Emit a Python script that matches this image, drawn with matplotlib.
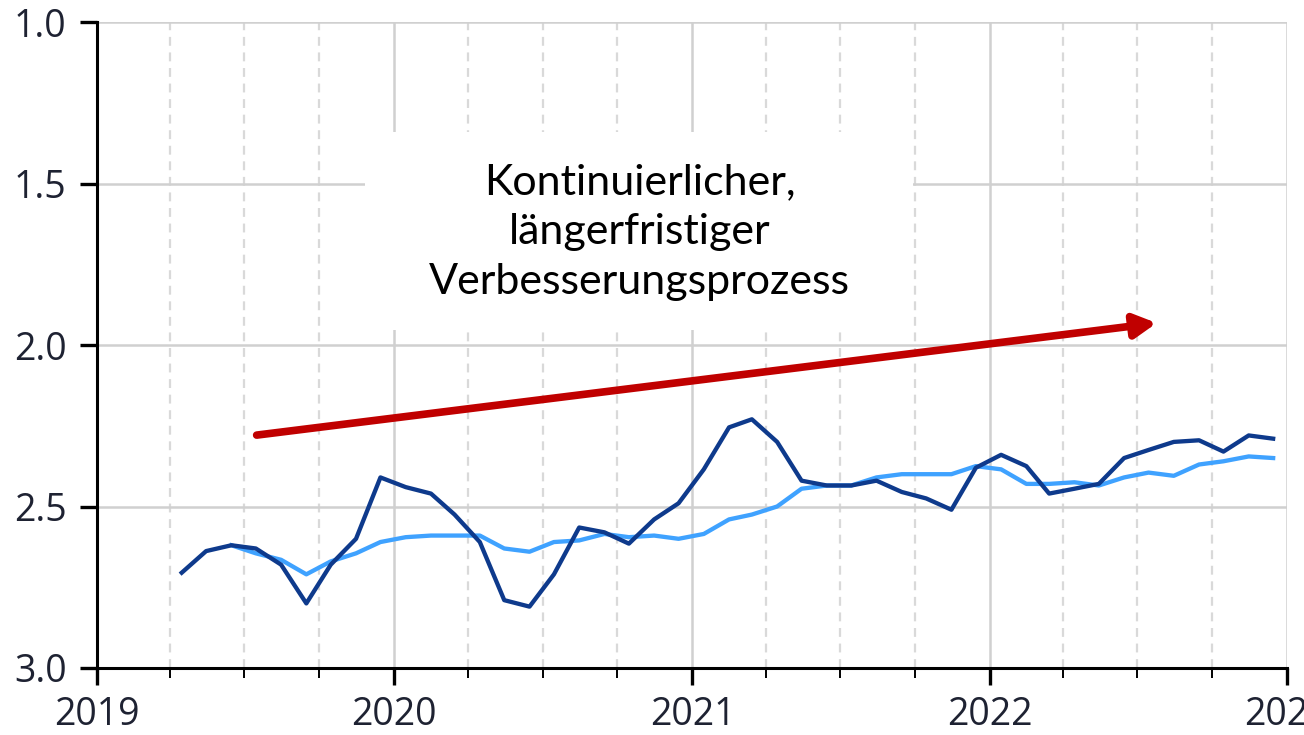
import matplotlib
matplotlib.use("Agg")
import matplotlib.dates as mdates
import matplotlib.pyplot as plt
from matplotlib.patches import Rectangle
import pandas as pd

plt.rcParams["font.family"] = ["Open Sans", "DejaVu Sans"]

# monthly values, mid-month, April 2019 .. December 2022
months = pd.date_range("2019-04-01", "2022-12-01", freq="MS") + pd.Timedelta(days=14)

dark_values = [2.705, 2.638, 2.62, 2.63, 2.68, 2.80, 2.68, 2.60, 2.41, 2.44,
               2.46, 2.525, 2.61, 2.79, 2.81, 2.71, 2.565, 2.58, 2.615, 2.54,
               2.49, 2.385, 2.255, 2.23, 2.30, 2.42, 2.435, 2.435, 2.42, 2.455,
               2.475, 2.51, 2.38, 2.34, 2.375, 2.46, 2.445, 2.43, 2.35, 2.325,
               2.30, 2.295, 2.33, 2.28, 2.29]

# smoothed series starts in June 2019
light_start = 2
light_values = [2.62, 2.645, 2.665, 2.71, 2.67, 2.645, 2.61, 2.595,
                2.59, 2.59, 2.59, 2.63, 2.64, 2.61, 2.605, 2.585, 2.595, 2.59,
                2.60, 2.585, 2.54, 2.525, 2.50, 2.445, 2.435, 2.435, 2.41, 2.40,
                2.40, 2.40, 2.375, 2.385, 2.43, 2.43, 2.425, 2.435, 2.41, 2.395,
                2.405, 2.37, 2.36, 2.345, 2.35]

y_ticks = [1.0, 1.5, 2.0, 2.5, 3.0]
note = "Kontinuierlicher,\nlängerfristiger\nVerbesserungsprozess"

fig = plt.figure(figsize=(13.04, 7.35), dpi=100)
ax = fig.add_axes([97 / 1304, 1 - 668 / 735, (1287 - 97) / 1304, (668 - 22) / 735])

ax.plot(months[light_start:], light_values, color="#3fa2ff", lw=3.1, zorder=3)
ax.plot(months, dark_values, color="#0e3a8c", lw=3.1, zorder=4)

ax.set_xlim(pd.Timestamp("2019-01-01"), pd.Timestamp("2023-01-01"))
ax.set_ylim(3.0, 1.0)
ax.set_yticks(y_ticks)
ax.set_yticklabels([f"{v:.1f}" for v in y_ticks])

ax.xaxis.set_major_locator(mdates.YearLocator())
ax.xaxis.set_major_formatter(mdates.DateFormatter("%Y"))
ax.xaxis.set_minor_locator(mdates.MonthLocator(bymonth=[4, 7, 10]))

ax.grid(which="major", color="#d0d0d0", lw=1.8, zorder=0)
ax.grid(which="minor", axis="x", color="#d9d9d9", lw=1.6, ls=(0, (4, 3)), zorder=0)

for side in ["top", "right"]:
    ax.spines[side].set_visible(False)
for side in ["left", "bottom"]:
    ax.spines[side].set_linewidth(2.2)
    ax.spines[side].set_color("black")

ax.tick_params(which="major", length=12, width=2.4, colors="black",
               labelsize=27, labelcolor="#1e2232")
ax.tick_params(axis="y", which="major", pad=10)
ax.tick_params(axis="x", which="major", pad=8)
ax.tick_params(which="minor", length=7, width=1.4, colors="black")

# white box behind the note, hiding the grid
ax.add_patch(Rectangle((0.225, 0.523), 0.461, 0.307, transform=ax.transAxes,
                       fc="white", ec="none", zorder=2))
ax.text(pd.Timestamp("2020-10-28"), 1.65, note, ha="center", va="center",
        fontsize=31, family="Lato", color="black", linespacing=1.38, zorder=5)

ax.annotate("", xy=(pd.Timestamp("2022-07-25"), 1.932),
            xytext=(pd.Timestamp("2019-07-16"), 2.279),
            arrowprops=dict(arrowstyle="-|>,head_length=1.3,head_width=0.7",
                            color="#c00000", lw=5.5, shrinkA=0, shrinkB=0),
            zorder=6)

fig.savefig("out.png", dpi=100)
